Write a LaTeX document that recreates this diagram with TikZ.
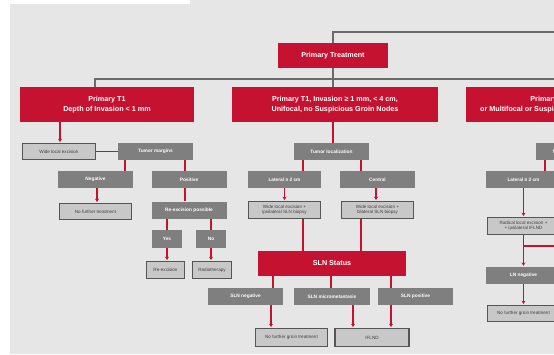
\documentclass[tikz,border=0pt]{standalone}
\usepackage{fontspec}
\setmainfont{Liberation Sans}
\usetikzlibrary{arrows.meta}

\definecolor{nccrot}{HTML}{C41230}
\definecolor{dunkelgrau}{HTML}{7F7F7F}
\definecolor{hellgrau}{HTML}{C8C8C8}
\definecolor{rahmen}{HTML}{555555}
\definecolor{hintergrund}{HTML}{E6E6E6}
\definecolor{linie}{HTML}{6A6A6A}

\tikzset{
  rotbox/.style={fill=nccrot, text=white, inner sep=0pt, align=center,
    font=\bfseries\fontsize{7.2}{10.5}\selectfont},
  graubox/.style={fill=dunkelgrau, text=white, inner sep=0pt, align=center,
    minimum width=75pt, minimum height=17pt,
    font=\bfseries\fontsize{4.8}{5.5}\selectfont},
  hellbox/.style={fill=hellgrau, draw=rahmen, line width=1.4pt, text=black!75,
    inner sep=0pt, align=center, minimum width=72.5pt, minimum height=15.5pt,
    font=\fontsize{4.6}{5.2}\selectfont},
  graulinie/.style={linie, line width=1.1pt},
  rotlinie/.style={nccrot, line width=1.2pt},
  rotpfeil/.style={rotlinie, -{Stealth[length=3.4pt,width=4pt]}, shorten >=1pt},
}

\begin{document}
\begin{tikzpicture}[x=1pt,y=-1pt]
  % Hintergrund mit weissem Rand links und oben
  \useasboundingbox (0,0) rectangle (554,354);
  \fill[white] (0,0) rectangle (554,354);
  \fill[hintergrund] (10,354) -- (10,4) -- (190,4) -- (190,0) -- (554,0) -- (554,354) -- cycle;
  \clip (0,0) rectangle (554,354);

  % Obere Ebene
  \node[rotbox, minimum width=110pt, minimum height=25pt] (treat) at (333,55.5) {Primary Treatment};
  \node[rotbox, minimum width=174pt, minimum height=35pt] (t1a) at (107,104.5) {Primary T1\\Depth of Invasion < 1 mm};
  \node[rotbox, minimum width=206pt, minimum height=35pt] (t1b) at (335,104.5) {Primary T1, Invasion ≥ 1 mm, < 4 cm,\\Unifocal, no Suspicious Groin Nodes};
  \node[rotbox, minimum width=166pt, minimum height=35pt] (t2) at (549,104.5) {Primary T2\\or Multifocal or Suspicious Groin Nodes};

  % graue Verbindungen oben
  \coordinate (oben) at (333,32);
  \coordinate (orand) at (556,32);
  \coordinate (verteiler) at (333,79);
  \coordinate (urand) at (556,79);
  \draw[graulinie] (treat.north) -- (oben) -- (orand);
  \draw[graulinie] (treat.south) -- (verteiler) -- (t1b.north -| verteiler);
  \draw[graulinie] ([xshift=-12pt]t1a.north) |- (urand);

  % Linke Spalte: Depth of Invasion < 1 mm
  \node[hellbox] (wle) at (59,151.5) {Wide local excision};
  \node[graubox] (margins) at (155.5,151.5) {Tumor margins};
  \node[graubox] (neg) at (95.5,179.5) {Negative};
  \node[graubox] (pos) at (189,179.5) {Positive};
  \node[hellbox] (nofurther) at (95.5,211.5) {No further treatment};
  \node[graubox] (reexc) at (189,210) {Re-excision possible};
  \node[graubox, minimum width=30pt, minimum height=18pt] (yes) at (167,239) {Yes};
  \node[graubox, minimum width=30pt, minimum height=18pt] (no) at (211,239) {No};
  \node[hellbox, minimum width=37.5pt, minimum height=16.5pt] (reex) at (165.5,270) {Re-excision};
  \node[hellbox, minimum width=38.5pt, minimum height=16.5pt] (rt) at (212,270) {Radiotherapy};

  % Mittlere Spalte: Invasion >= 1 mm
  \node[graubox] (loc) at (331.5,151.5) {Tumor localization};
  \node[graubox, minimum width=73pt] (lat) at (284.5,179.5) {Lateral ≥ 2 cm};
  \node[graubox] (cen) at (377.5,179.5) {Central};
  \node[hellbox, minimum height=16.5pt] (latex) at (284.5,210) {Wide local excision +\\ipsilateral SLN biopsy};
  \node[hellbox, minimum height=16.5pt] (cenex) at (377.5,210) {Wide local excision +\\bilateral SLN biopsy};
  \node[rotbox, minimum width=148pt, minimum height=25pt] (sln) at (332,263.5) {SLN Status};
  \node[graubox] (slnneg) at (245.5,296.5) {SLN negative};
  \node[graubox, minimum width=76pt] (slnmic) at (332,296.5) {SLN micrometastasis};
  \node[graubox] (slnpos) at (415.5,296.5) {SLN positive};
  \node[hellbox, minimum height=17.5pt] (nogroin) at (291.5,337.5) {No further groin treatment};
  \node[hellbox, minimum width=74pt, minimum height=17.5pt] (ifl) at (372,337.5) {IFLND};

  % Rechte Spalte (angeschnitten)
  \node[graubox] (rloc) at (573.5,151.5) {Tumor localization};
  \node[graubox] (rlat) at (523.5,179.5) {Lateral ≥ 2 cm};
  \node[hellbox, minimum height=16.5pt] (rlatex) at (523.5,226) {Radical local excision +\\+ ipsilateral IFLND};
  \node[graubox] (rlnneg) at (523.5,275.5) {LN negative};
  \node[hellbox] (rnofurther) at (523.5,313.5) {No further groin treatment};

  % rote Linien (von/nach/Versatz)
  \foreach \von/\nach/\dx in {margins/neg/-30.5, margins/pos/29.5, pos/reexc/-4,
      reexc/yes/-22, reexc/no/22, t1b/loc/-2, loc/lat/-28.5, loc/cen/29.5,
      latex/sln/18.5, cenex/sln/-16.5, sln/slnneg/-59, sln/slnmic/-1,
      sln/slnpos/59, rloc/rlat/-28.5}
    \draw[rotlinie] ([xshift=\dx pt]\von.south) coordinate (h) -- (h |- \nach.north);

  % rote Pfeile
  \foreach \von/\nach/\dx in {t1a/wle/-47, neg/nofurther/1.5, yes/reex/0, no/rt/0,
      lat/latex/0, cen/cenex/-1.5, slnneg/nogroin/25.5, slnmic/ifl/21,
      slnpos/ifl/-24.5, rlat/rlatex/0, rlatex/rlnneg/0, rlnneg/rnofurther/0}
    \draw[rotpfeil] ([xshift=\dx pt]\von.south) coordinate (h) -- (h |- \nach.north);

  \draw[rotlinie] (wle.east) -- (margins.west);
  \coordinate (rrand) at (556,246);
  \draw[rotlinie] (rlatex.south |- rrand) -- (rrand);
\end{tikzpicture}
\end{document}
